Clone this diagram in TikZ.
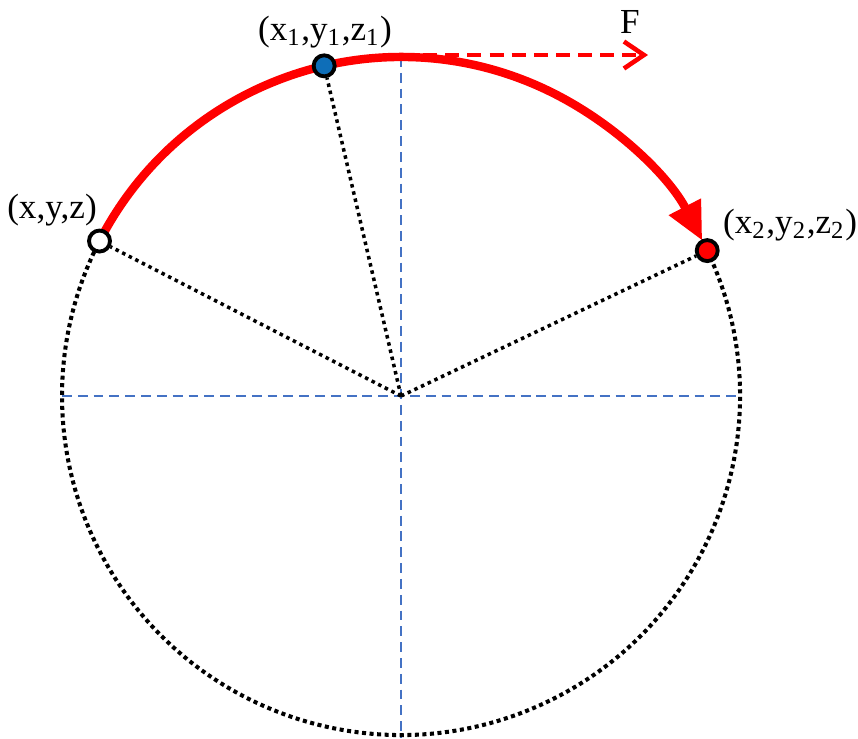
\documentclass[tikz,border=0pt]{standalone}
\usepackage{fontspec}
\setmainfont{Liberation Serif}
\usetikzlibrary{arrows.meta,positioning}
\definecolor{ptblue}{HTML}{0E6EB8}
\definecolor{axisblue}{HTML}{4472C4}

\begin{document}
\begin{tikzpicture}[
  pt/.style={draw,circle,line width=1.1pt,inner sep=0pt,minimum size=0.21cm},
  radial/.style={line width=1pt,dash pattern=on 1pt off 1.1pt},
  rim/.style={line width=1.15pt,dash pattern=on 1.15pt off 1pt},
  axis/.style={axisblue,line width=0.5pt,dash pattern=on 2.8pt off 1.7pt},
  font=\fontsize{10}{11}\selectfont]
\useasboundingbox (-4.01,-3.42) rectangle (4.57,3.96);
% centre and axis ends
\coordinate (o) at (0,0);
\coordinate (left) at (180:3.39);
\coordinate (right) at (0:3.39);
\coordinate (top) at (0,3.39);
\coordinate (bottom) at (0,-3.42);
\coordinate (fend) at (2.47,3.41);
\coordinate (ftop) at (0,3.41);
\draw[axis] (left) -- (right);
\draw[axis] (top) -- (bottom);
% dotted rest of the circle
\draw[rim] (25.4:3.39) arc[start angle=25.4,end angle=-207.2,radius=3.39];
% path along the circle
\draw[red,line width=2.4pt,-{Triangle[length=0.38cm,width=0.34cm]}]
  (152.8:3.39) arc[start angle=152.8,end angle=27.3,radius=3.39];
\draw[red,line width=1.3pt,dash pattern=on 4pt off 2.3pt,
  -{Straight Barb[length=0.2cm,width=0.27cm]}] (ftop) -- (fend);
% points
\node[pt,fill=white] (p) at (152.8:3.39) {};
\node[pt,fill=ptblue] (p1) at (103.1:3.39) {};
\node[pt,fill=red] (p2) at (25.4:3.39) {};
\draw[radial] (o) -- (p);
\draw[radial] (o) -- (p1);
\draw[radial] (o) -- (p2);
% labels
\node (lp) at (-3.49,1.86) {(x,y,z)};
\node (lp1) at (-0.76,3.64) {(x\textsubscript{1},y\textsubscript{1},z\textsubscript{1})};
\node (lp2) at (3.89,1.71) {(x\textsubscript{2},y\textsubscript{2},z\textsubscript{2})};
\node (lf) at (2.29,3.74) {F};
\end{tikzpicture}
\end{document}
